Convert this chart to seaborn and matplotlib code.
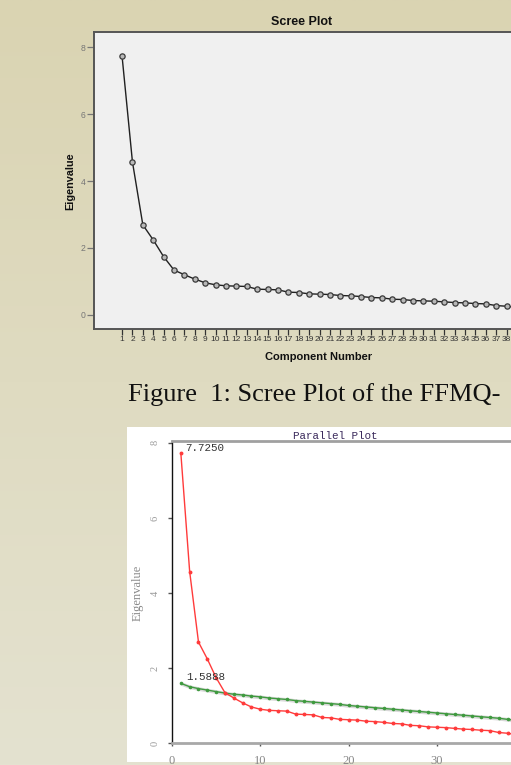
"""
Scree plot (SPSS style) and parallel-analysis plot of the FFMQ items,
as they appear on a scanned document page.
"""
import matplotlib.pyplot as plt
import numpy as np
import seaborn as sns
from matplotlib.patches import Rectangle

# --- data ------------------------------------------------------------------
components = list(range(1, 40))
observed_eigen = [
    7.73, 4.57, 2.69, 2.24, 1.74, 1.34, 1.20, 1.07, 0.96, 0.90,
    0.87, 0.86, 0.85, 0.77, 0.76, 0.75, 0.68, 0.67, 0.63, 0.62,
    0.61, 0.58, 0.57, 0.55, 0.52, 0.51, 0.47, 0.46, 0.43, 0.42,
    0.41, 0.39, 0.37, 0.36, 0.34, 0.33, 0.28, 0.26, 0.22,
]
random_eigen = [
    1.59, 1.50, 1.45, 1.41, 1.37, 1.33, 1.30, 1.28, 1.25, 1.23,
    1.20, 1.18, 1.16, 1.13, 1.11, 1.09, 1.07, 1.05, 1.03, 1.00,
    0.98, 0.96, 0.94, 0.92, 0.90, 0.88, 0.86, 0.84, 0.82, 0.80,
    0.78, 0.76, 0.74, 0.72, 0.70, 0.68, 0.66, 0.63, 0.60,
]
random_spread = 0.05
scree_yticks = [0, 2, 4, 6, 8]
parallel_xticks = [0, 10, 20, 30]
first_observed_label = "7.7250"
first_random_label = "1.5888"
caption = "Figure  1: Scree Plot of the FFMQ-"

W, H = 511, 765
sns.set_theme(style="white")
plt.rcParams["font.family"] = ["Liberation Sans", "DejaVu Sans"]

fig = plt.figure(figsize=(W / 100, H / 100), dpi=100)


def fx(px):
    return px / W


def fy(py):
    return 1 - py / H


# page background, a soft beige gradient
bg = fig.add_axes([0, 0, 1, 1], zorder=-10)
grad = np.linspace(0, 1, 256).reshape(-1, 1)
top_c = np.array([218, 212, 178]) / 255
bot_c = np.array([228, 226, 208]) / 255
img = top_c + grad[..., None] * (bot_c - top_c)
bg.imshow(img, aspect="auto", extent=[0, 1, 0, 1])
bg.set_axis_off()

# --- top: SPSS scree plot ----------------------------------------------------
ax1 = fig.add_axes([fx(94), fy(329), fx(545 - 94), (329 - 32) / H])
ax1.set_facecolor("#f0f0f0")
sns.lineplot(x=components, y=observed_eigen, ax=ax1, color="#202020", lw=1,
             marker="o", markersize=3.8, markerfacecolor="#b8b8b8",
             markeredgecolor="#3a3a3a", markeredgewidth=0.9)
ax1.set_xlim(-1.7, 41.7)
ax1.set_ylim(-0.42, 8.45)
ax1.set_xticks(components)
ax1.set_xticklabels([str(c) for c in components], fontsize=6, color="#333333")
ax1.set_yticks(scree_yticks)
ax1.set_yticklabels([str(v) for v in scree_yticks], fontsize=6.2, color="#777777")
ax1.tick_params(axis="x", length=4, width=0.9, color="#333333", pad=1, bottom=True)
ax1.tick_params(axis="y", length=5, width=0.9, color="#777777", pad=1, left=True)
for side in ["left", "bottom", "top"]:
    ax1.spines[side].set_color("#555555")
    ax1.spines[side].set_linewidth(1.4)
ax1.spines["right"].set_visible(False)
ax1.set_xlabel("")
ax1.set_ylabel("")

fig.text(fx(302), fy(22), "Scree Plot", fontsize=9, fontweight="bold",
         ha="center", va="center", color="#111111")
fig.text(fx(319), fy(357), "Component Number", fontsize=8, fontweight="bold",
         ha="center", va="center", color="#111111")
fig.text(fx(70), fy(181), "Eigenvalue", fontsize=7.8, fontweight="bold",
         ha="center", va="center", rotation=90, color="#111111")

fig.text(fx(128), fy(395), caption, fontsize=19, family="Liberation Serif",
         ha="left", va="center", color="#111111")

# --- bottom: parallel analysis plot -----------------------------------------
fig.patches.append(Rectangle((fx(127), fy(762)), 1 - fx(127), fy(427) - fy(762),
                             transform=fig.transFigure, facecolor="white",
                             edgecolor="none", zorder=-5))

ax2 = fig.add_axes([fx(172), fy(743), fx(534 - 172), (743 - 441) / H])
ax2.set_facecolor("white")
lo = [v - random_spread for v in random_eigen]
hi = [v + random_spread for v in random_eigen]
ax2.fill_between(components, lo, hi, color="#d8d8d8", lw=0)
sns.lineplot(x=components, y=random_eigen, ax=ax2, color="#3f9a3f", lw=1,
             marker="o", markersize=2.6, markeredgewidth=0)
sns.lineplot(x=components, y=observed_eigen, ax=ax2, color="#ff3b3b", lw=1,
             marker="o", markersize=2.8, markeredgewidth=0)
ax2.set_xlim(0, 41)
ax2.set_ylim(0, 8.05)
ax2.set_xticks(parallel_xticks)
ax2.set_xticklabels([str(v) for v in parallel_xticks], fontsize=9,
                    family="Liberation Serif", color="#888888")
ax2.set_yticks(scree_yticks)
ax2.set_yticklabels([str(v) for v in scree_yticks], fontsize=7.5,
                    family="Liberation Serif", color="#999999",
                    rotation=90, va="center")
ax2.tick_params(axis="x", length=2, width=1, color="#555555", pad=7, bottom=True)
ax2.tick_params(axis="y", length=3, width=1, color="#555555", pad=6, left=True)
ax2.spines["left"].set_color("#111111")
ax2.spines["left"].set_linewidth(1)
ax2.spines["bottom"].set_color("#a8a8a8")
ax2.spines["bottom"].set_linewidth(2)
ax2.spines["top"].set_color("#a0a0a0")
ax2.spines["top"].set_linewidth(2)
ax2.spines["right"].set_visible(False)
ax2.set_xlabel("")
ax2.set_ylabel("")

ax2.text(1.47, 7.87, first_observed_label, fontsize=7.8, family="Liberation Mono",
         ha="left", va="center", color="#333333")
ax2.text(1.6, 1.76, first_random_label, fontsize=7.8, family="Liberation Mono",
         ha="left", va="center", color="#333333")

fig.text(fx(335), fy(436), "Parallel Plot", fontsize=7.8, family="Liberation Mono",
         ha="center", va="center", color="#3b2a5c")
fig.text(fx(138), fy(593), "Eigenvalue", fontsize=9, family="Liberation Serif",
         ha="center", va="center", rotation=90, color="#8a8a8a")

fig.savefig("out.png", dpi=100, facecolor=fig.get_facecolor())
